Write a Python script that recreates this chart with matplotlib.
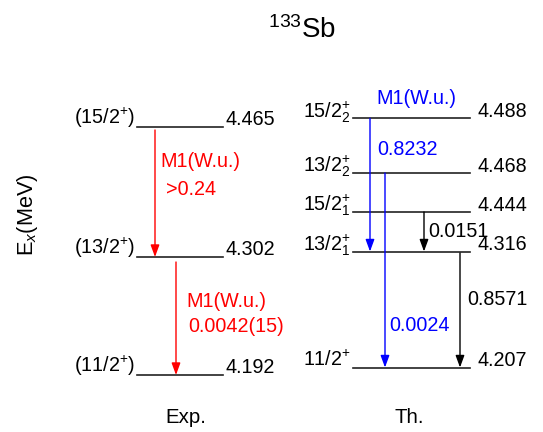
import matplotlib
matplotlib.use('Agg')
import matplotlib.pyplot as plt

plt.rcParams['font.family'] = ['Liberation Sans', 'DejaVu Sans']
plt.rcParams['mathtext.fontset'] = 'custom'
plt.rcParams['mathtext.rm'] = 'Liberation Sans'
plt.rcParams['mathtext.it'] = 'Liberation Sans:italic'
plt.rcParams['mathtext.bf'] = 'Liberation Sans:bold'

# ---- level data (MeV) ----
exp_spins = [r'(11/2$^{+}$)', r'(13/2$^{+}$)', r'(15/2$^{+}$)']
exp_energies = [4.192, 4.302, 4.465]

th_spins = [r'11/2$^{+}$', r'13/2$^{+}_{1}$', r'15/2$^{+}_{1}$',
            r'13/2$^{+}_{2}$', r'15/2$^{+}_{2}$']
th_energies = [4.207, 4.316, 4.444, 4.468, 4.488]

# ---- M1 transitions: (initial index, final index, B(M1) in W.u.) ----
exp_trans_from = [2, 1]
exp_trans_to = [1, 0]
exp_trans_val = ['>0.24', '0.0042(15)']

th_trans_from = [4, 3, 2, 1]
th_trans_to = [1, 0, 1, 0]
th_trans_val = ['0.8232', '0.0024', '0.0151', '0.8571']

# ---- schematic layout (pixels, figure of 543 x 432) ----
W, H = 543, 432
exp_rows = [375, 257, 127]
th_rows = [367.5, 251.5, 212, 172.5, 118.3]
exp_x = (137, 223)
th_x = (353, 470)

exp_arrow_x = [155, 176]
exp_arrow_gap = [3, 5]
# x of "M1(W.u.)", its baseline, x of value, baseline of value
exp_label_pos = [(160, 167, 166, 195), (186, 307, 188, 332)]

th_arrow_x = [370, 385, 424, 460]
th_arrow_gap = [0, 0.5, 0, 1.5]
th_arrow_col = ['#0000ff', '#0000ff', 'black', 'black']
th_val_pos = [(377, 155), (389, 331), (428, 237), (467, 305)]

fs = 14.2

fig = plt.figure(figsize=(W / 100, H / 100), dpi=100)
ax = fig.add_axes([0, 0, 1, 1])
ax.set_xlim(0, W)
ax.set_ylim(H, 0)
ax.axis('off')

lvl_kw = dict(color='#222222', lw=1.2)
arrow_style = '-|>,head_length=0.6,head_width=0.22'


def draw_arrow(x, y0, y1, color):
    ax.annotate('', xy=(x, y1), xytext=(x, y0),
                arrowprops=dict(arrowstyle=arrow_style, color=color, lw=1.0,
                                mutation_scale=12, shrinkA=0, shrinkB=0))


# Experimental levels
for spin, e, row in zip(exp_spins, exp_energies, exp_rows):
    ax.plot(exp_x, [row, row], **lvl_kw)
    ax.text(exp_x[0] - 2, row - 3, spin, ha='right', va='baseline', fontsize=fs)
    ax.text(exp_x[1] + 2, row - 2, f'{e:.3f}', ha='left', va='baseline', fontsize=fs)

for i, (a, b, v) in enumerate(zip(exp_trans_from, exp_trans_to, exp_trans_val)):
    x = exp_arrow_x[i]
    draw_arrow(x, exp_rows[a] + exp_arrow_gap[i], exp_rows[b], '#ff0000')
    mx, my, vx, vy = exp_label_pos[i]
    ax.text(mx, my, 'M1(W.u.)', color='#ff0000', fontsize=fs, va='baseline')
    ax.text(vx, vy, v, color='#ff0000', fontsize=fs, va='baseline')

# Theoretical levels
for spin, e, row in zip(th_spins, th_energies, th_rows):
    ax.plot(th_x, [row, row], **lvl_kw)
    ax.text(th_x[0] - 2, row - 1, spin, ha='right', va='baseline', fontsize=fs)
    ax.text(th_x[1] + 7, row - 1, f'{e:.3f}', ha='left', va='baseline', fontsize=fs)

for i, (a, b, v) in enumerate(zip(th_trans_from, th_trans_to, th_trans_val)):
    draw_arrow(th_arrow_x[i], th_rows[a] + th_arrow_gap[i], th_rows[b], th_arrow_col[i])
    vx, vy = th_val_pos[i]
    ax.text(vx, vy, v, color=th_arrow_col[i], fontsize=fs, va='baseline')

ax.text(376, 104, 'M1(W.u.)', color='#0000ff', fontsize=fs, va='baseline')

# Title and column captions
ax.text(302, 38, r'$^{133}$Sb', ha='center', va='baseline', fontsize=20)
ax.text(186, 423, 'Exp.', ha='center', va='baseline', fontsize=fs + 0.5)
ax.text(409, 423, 'Th.', ha='center', va='baseline', fontsize=fs + 0.5)
ax.text(28, 215, r'E$_{x}$(MeV)', ha='center', va='center', rotation=90, fontsize=fs + 1.5)

fig.savefig('out.png', dpi=100)
